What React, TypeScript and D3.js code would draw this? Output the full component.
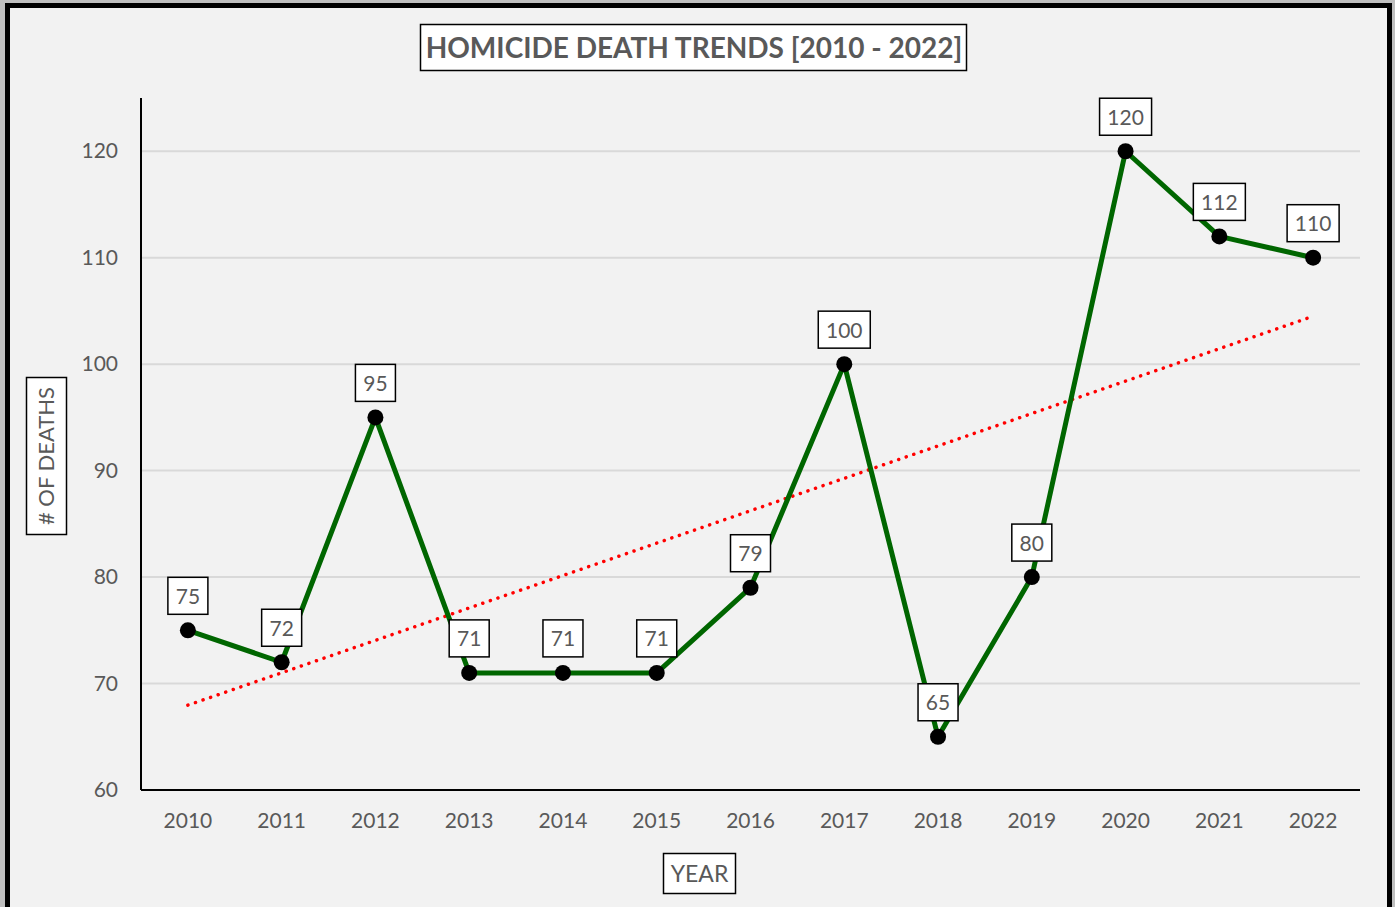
import React, { useEffect, useRef } from 'react';
import * as d3 from 'd3';

const years = ['2010', '2011', '2012', '2013', '2014', '2015', '2016', '2017', '2018', '2019', '2020', '2021', '2022'];
const deaths = [75, 72, 95, 71, 71, 71, 79, 100, 65, 80, 120, 112, 110];
const yTicks = [60, 70, 80, 90, 100, 110, 120];

const FONT = 'Lato, "Open Sans", sans-serif';
const GREY = '#595959';

const App = () => {
  const ref = useRef<SVGSVGElement | null>(null);

  useEffect(() => {
    document.body.style.margin = '0';
    const width = 1395;
    const height = 907;
    const svg = d3.select(ref.current);
    svg.selectAll('*').remove();

    // page background + frame
    svg.append('rect').attr('width', width).attr('height', height).attr('fill', '#bfbfbf');
    svg.append('rect')
      .attr('x', 7.5).attr('y', 5.5)
      .attr('width', 1382).attr('height', 905)
      .attr('fill', '#f2f2f2')
      .attr('stroke', '#000').attr('stroke-width', 5);

    const left = 141, right = 1360, top = 98, bottom = 790;

    const x = d3.scaleBand().domain(years).range([left, right]);
    const y = d3.scaleLinear().domain([60, 125]).range([bottom, top]);
    const cx = (yr: string) => (x(yr) as number) + x.bandwidth() / 2;

    // gridlines
    svg.append('g')
      .selectAll('line')
      .data(yTicks.filter(t => t > 60))
      .enter()
      .append('line')
      .attr('x1', left).attr('x2', right)
      .attr('y1', d => y(d)).attr('y2', d => y(d))
      .attr('stroke', '#d9d9d9').attr('stroke-width', 2);

    // axes
    const yAxis = svg.append('g')
      .attr('transform', `translate(${left},0)`)
      .call(d3.axisLeft(y).tickValues(yTicks).tickSize(0).tickPadding(23));
    yAxis.select('.domain').remove();
    yAxis.selectAll('text').attr('font-family', FONT).attr('font-size', 21).attr('fill', GREY);

    const xAxis = svg.append('g')
      .attr('transform', `translate(0,${bottom})`)
      .call(d3.axisBottom(x).tickSize(0).tickPadding(23));
    xAxis.select('.domain').remove();
    xAxis.selectAll('text').attr('font-family', FONT).attr('font-size', 21).attr('fill', GREY);

    svg.append('line').attr('x1', left).attr('x2', left).attr('y1', top).attr('y2', bottom)
      .attr('stroke', '#000').attr('stroke-width', 2);
    svg.append('line').attr('x1', left).attr('x2', right).attr('y1', bottom).attr('y2', bottom)
      .attr('stroke', '#000').attr('stroke-width', 2);

    // linear trend (least squares over the series)
    const n = deaths.length;
    const xm = d3.mean(d3.range(n)) as number;
    const ym = d3.mean(deaths) as number;
    const slope = d3.sum(deaths, (v, i) => (i - xm) * (v - ym)) / d3.sum(d3.range(n), i => (i - xm) ** 2);
    const icpt = ym - slope * xm;
    svg.append('line')
      .attr('x1', cx(years[0])).attr('y1', y(icpt))
      .attr('x2', cx(years[n - 1])).attr('y2', y(icpt + slope * (n - 1)))
      .attr('stroke', '#ff0000').attr('stroke-width', 3.5)
      .attr('stroke-linecap', 'round')
      .attr('stroke-dasharray', '0.1 7.9');

    // series line
    const line = d3.line<number>()
      .x((d, i) => cx(years[i]))
      .y(d => y(d));
    svg.append('path')
      .datum(deaths)
      .attr('d', line)
      .attr('fill', 'none')
      .attr('stroke', '#006600')
      .attr('stroke-width', 5)
      .attr('stroke-linejoin', 'round');

    svg.append('g')
      .selectAll('circle')
      .data(deaths)
      .enter()
      .append('circle')
      .attr('cx', (d, i) => cx(years[i]))
      .attr('cy', d => y(d))
      .attr('r', 8)
      .attr('fill', '#000');

    // data labels
    const lab = svg.append('g')
      .selectAll('g')
      .data(deaths)
      .enter()
      .append('g')
      .attr('transform', (d, i) => `translate(${cx(years[i])},${y(d) - 34})`);
    lab.append('rect')
      .attr('x', d => (String(d).length > 2 ? -26 : -20))
      .attr('width', d => (String(d).length > 2 ? 52 : 40))
      .attr('y', -19).attr('height', 37)
      .attr('fill', '#fff').attr('stroke', '#000').attr('stroke-width', 1.5);
    lab.append('text')
      .attr('text-anchor', 'middle')
      .attr('dy', '0.36em')
      .attr('font-family', FONT).attr('font-size', 21).attr('fill', GREY)
      .text(d => d);

    // title
    svg.append('rect').attr('x', 420.5).attr('y', 24.5).attr('width', 546).attr('height', 46)
      .attr('fill', '#fff').attr('stroke', '#000').attr('stroke-width', 1.5);
    svg.append('text')
      .attr('x', 694).attr('y', 48).attr('dy', '0.36em')
      .attr('text-anchor', 'middle')
      .attr('font-family', FONT).attr('font-size', 28).attr('font-weight', 'bold')
      .attr('fill', GREY)
      .text('HOMICIDE DEATH TRENDS [2010 - 2022]');

    // y axis title
    svg.append('rect').attr('x', 26.5).attr('y', 377.5).attr('width', 40).attr('height', 157)
      .attr('fill', '#fff').attr('stroke', '#000').attr('stroke-width', 1.5);
    svg.append('text')
      .attr('transform', 'translate(46,456) rotate(-90)')
      .attr('dy', '0.36em')
      .attr('text-anchor', 'middle')
      .attr('font-family', FONT).attr('font-size', 22).attr('fill', GREY)
      .text('# OF DEATHS');

    // x axis title
    svg.append('rect').attr('x', 663.5).attr('y', 853.5).attr('width', 72).attr('height', 40)
      .attr('fill', '#fff').attr('stroke', '#000').attr('stroke-width', 1.5);
    svg.append('text')
      .attr('x', 699.5).attr('y', 874).attr('dy', '0.36em')
      .attr('text-anchor', 'middle')
      .attr('font-family', FONT).attr('font-size', 23).attr('fill', GREY)
      .text('YEAR');

    return () => {
      svg.selectAll('*').remove();
    };
  }, []);

  return (
    <div style={{ position: 'absolute', left: 0, top: 0 }}>
      <svg ref={ref} width={1395} height={907} style={{ display: 'block' }} />
    </div>
  );
};

export default App;
